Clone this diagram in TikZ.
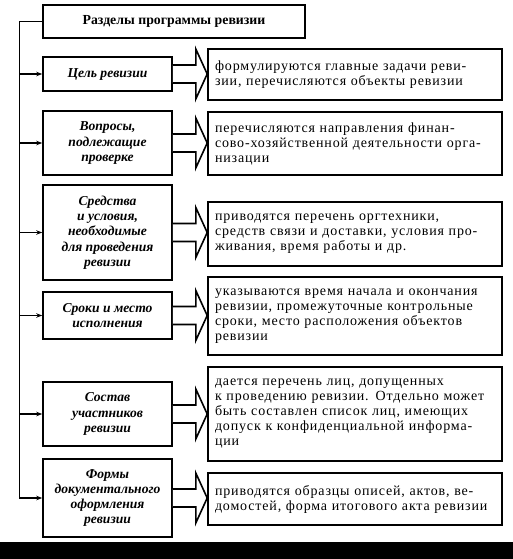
\documentclass[tikz,border=0pt]{standalone}
\usepackage{fontspec}
\setmainfont{Liberation Serif}
\newfontfamily\descfont[LetterSpace=6]{Liberation Serif}
\usetikzlibrary{arrows.meta,calc,positioning}

\begin{document}
\begin{tikzpicture}[x=1pt,y=-1pt,
    titlebox/.style={draw,line width=1.6pt,minimum width=262pt,minimum height=33pt,
        font=\fontsize{13.8}{15}\selectfont\bfseries},
    sectbox/.style={draw,line width=1.6pt,minimum width=129pt,align=center,inner sep=2pt,
        font=\fontsize{13.6}{15.3}\selectfont\bfseries\itshape},
    descbox/.style={draw,line width=1.6pt,minimum width=294pt,text width=280pt,
        inner xsep=7pt,align=left,font=\descfont\fontsize{14}{15}\selectfont},
    blockarr/.style={line width=1.6pt,fill=white,line join=miter},
    feed/.style={line width=1.2pt,-{Stealth[length=6pt,width=4.5pt]}}]
\useasboundingbox (0,0) rectangle (513,559);
\fill[white] (0,0) rectangle (513,542);
\fill[black] (0,542) rectangle (513,559);

% Title
\node[titlebox] (title) at (174,21.5) {Разделы программы ревизии};

% Sections of the programme
\node[sectbox,minimum height=34pt] (l1) at (107.5,74) {Цель ревизии};
\node[sectbox,minimum height=64pt] (l2) at (107.5,143) {Вопросы,\\подлежащие\\проверке};
\node[sectbox,minimum height=95pt] (l3) at (107.5,232.5) {Средства\\и условия,\\необходимые\\для проведения\\ревизии};
\node[sectbox,minimum height=47pt] (l4) at (107.5,315.5) {Сроки и место\\исполнения};
\node[sectbox,minimum height=64pt] (l5) at (107.5,414) {Состав\\участников\\ревизии};
\node[sectbox,minimum height=78pt] (l6) at (107.5,498) {Формы\\документального\\оформления\\ревизии};

% Descriptions
\node[descbox,minimum height=51pt] (r1) at (355,74.5) {формулируются главные задачи реви-\\зии, перечисляются объекты ревизии};
\node[descbox,minimum height=63pt] (r2) at (355,143.5) {перечисляются направления финан-\\сово-хозяйственной деятельности орга-\\низации};
\node[descbox,minimum height=64pt] (r3) at (355,234) {приводятся перечень оргтехники,\\средств связи и доставки, условия про-\\живания, время работы и др.};
\node[descbox,minimum height=78pt] (r4) at (355,316) {указываются время начала и окончания\\ревизии, промежуточные контрольные\\сроки, место расположения объектов\\ревизии};
\node[descbox,minimum height=94pt] (r5) at (355,414) {дается перечень лиц, допущенных\\к проведению ревизии. Отдельно может\\быть составлен список лиц, имеющих\\допуск к конфиденциальной информа-\\ции};
\node[descbox,minimum height=52pt] (r6) at (355,499) {приводятся образцы описей, актов, ве-\\домостей, форма итогового акта ревизии};

% Spine from the title
\coordinate (spine) at ($(l6.west)+(-23pt,0)$);
\draw[line width=1.2pt] (title.west) -| (spine);
\foreach \i in {1,...,6} {
    \draw[feed] (spine |- l\i.west) -- (l\i.west);
}

% Hollow block arrows
\foreach \i in {1,...,6} {
    \draw[blockarr] ($(l\i.east)+(0pt,9pt)$) -- ++(23pt,0pt) -- ++(0pt,16pt)
        -- (r\i.west |- l\i.east) -- ($(l\i.east)+(23pt,-25pt)$) -- ++(0pt,16pt)
        -- ($(l\i.east)+(0pt,-9pt)$);
}
\end{tikzpicture}
\end{document}
